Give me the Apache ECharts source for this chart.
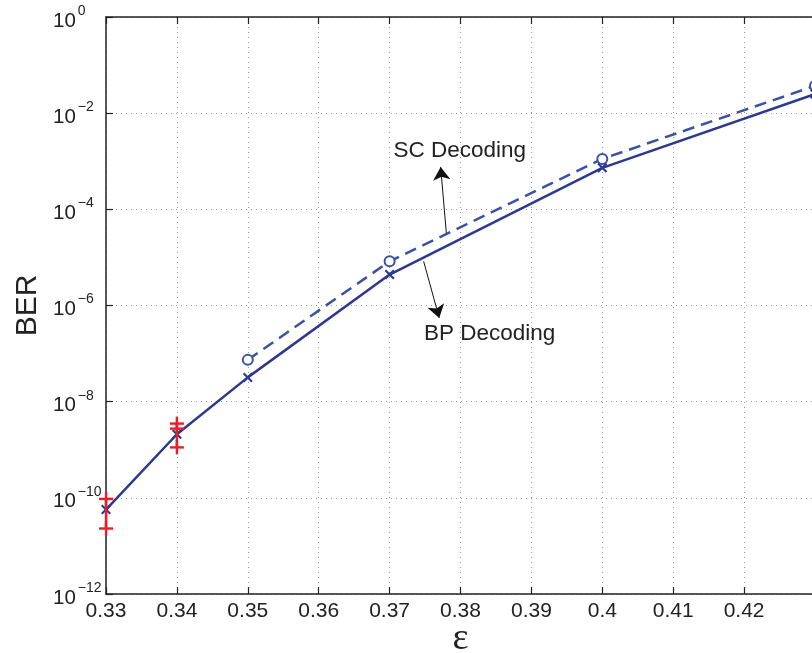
<!DOCTYPE html>
<html>
<head>
<meta charset="utf-8">
<script src="https://cdn.jsdelivr.net/npm/echarts@6/dist/echarts.min.js"></script>
<style>html,body{margin:0;padding:0;background:#fff}#c{width:812px;height:653px}</style>
</head>
<body>
<div id="c"></div>
<script>
// ---- data ----
const xTicks = [0.33, 0.34, 0.35, 0.36, 0.37, 0.38, 0.39, 0.40, 0.41, 0.42, 0.43];
const yTickExps = [-12, -10, -8, -6, -4, -2, 0];
const bpEps = [0.33, 0.34, 0.35, 0.37, 0.40, 0.43];
const bpBer = [5.7e-11, 2.1e-9, 3.2e-8, 4.4e-6, 7.3e-4, 2.5e-2];
const scEps = [0.35, 0.37, 0.40, 0.43];
const scBer = [7.4e-8, 8.3e-6, 1.12e-3, 3.7e-2];
const errEps = [0.33, 0.34];
const errLow = [2.3e-11, 1.12e-9];
const errMid = [null, 2.75e-9];
const errHigh = [9.5e-11, 3.5e-9];
const labelSC = 'SC Decoding';
const labelBP = 'BP Decoding';

const navy = '#2B3990';
const blue = '#3953A4';
const red = '#EE1C25';
const fontFam = 'Liberation Sans, Arial, Helvetica, sans-serif';
const xSym = 'path://M0,1.5 L1.5,0 L5,3.5 L8.5,0 L10,1.5 L6.5,5 L10,8.5 L8.5,10 L5,6.5 L1.5,10 L0,8.5 L3.5,5 Z';

const errData = errEps.map((x, i) => [x, errLow[i], errHigh[i], errMid[i] == null ? NaN : errMid[i]]);

function plusShapes(c, half, thick) {
  return [
    {type: 'rect', shape: {x: c[0] - half, y: c[1] - thick / 2, width: half * 2, height: thick}, style: {fill: red}},
    {type: 'rect', shape: {x: c[0] - thick / 2, y: c[1] - half, width: thick, height: half * 2}, style: {fill: red}}
  ];
}

const chart = echarts.init(document.getElementById('c'));
const gridLine = {show: true, lineStyle: {color: '#9a9a9a', type: [1, 4], width: 1}};
const option = {
  animation: false,
  grid: {left: 106, top: 17, right: -3, bottom: 59, containLabel: false, outerBoundsMode: 'none'},
  xAxis: [{
    type: 'value', min: 0.33, max: 0.43, interval: 0.01, position: 'bottom',
    axisLine: {show: true, onZero: false, lineStyle: {color: '#222', width: 1.5}},
    axisTick: {show: true, inside: true, length: 7, lineStyle: {color: '#222', width: 1.2}},
    axisLabel: {
      margin: 7, fontSize: 21, color: '#222', fontFamily: fontFam, hideOverlap: false,
      formatter: v => { const r = Math.round(v * 100) / 100; return r >= 0.429 ? '' : String(r); }
    },
    splitLine: gridLine,
    name: 'ε', nameLocation: 'middle', nameGap: 26, nameMoveOverlap: false,
    nameTextStyle: {fontSize: 38, fontFamily: 'Liberation Serif, DejaVu Serif, serif', color: '#222'}
  }, {
    type: 'value', min: 0.33, max: 0.43, interval: 0.01, position: 'top',
    axisLine: {show: true, onZero: false, lineStyle: {color: '#222', width: 1.5}},
    axisTick: {show: true, inside: true, length: 7, lineStyle: {color: '#222', width: 1.2}},
    axisLabel: {show: false}, splitLine: {show: false}
  }],
  yAxis: [{
    type: 'log', logBase: 10, min: Math.pow(10, yTickExps[0]), max: Math.pow(10, yTickExps[yTickExps.length - 1]),
    interval: 2, position: 'left',
    axisLine: {show: true, onZero: false, lineStyle: {color: '#222', width: 1.5}},
    axisTick: {show: true, inside: true, length: 7, lineStyle: {color: '#222', width: 1.2}},
    minorTick: {show: false},
    axisLabel: {
      margin: 53, align: 'left', color: '#222', fontFamily: fontFam,
      formatter: v => {
        const e = Math.round(Math.log10(v));
        const s = e < 0 ? '\u2212' + (-e) : String(e);
        return '{b|10}{e|' + s + '}';
      },
      rich: {
        b: {fontSize: 20.5, fontFamily: fontFam, color: '#222', padding: [8, 2, 0, 0]},
        e: {fontSize: 14, fontFamily: fontFam, color: '#222', padding: [0, 0, 12, 0]}
      }
    },
    splitLine: gridLine,
    name: 'BER', nameLocation: 'middle', nameGap: 63, nameRotate: 90, nameMoveOverlap: false,
    nameTextStyle: {fontSize: 30, fontFamily: fontFam, color: '#222'}
  }],
  series: [
    {
      name: 'SC', type: 'line', data: scEps.map((x, i) => [x, scBer[i]]),
      lineStyle: {color: blue, width: 2.5, type: [12, 7]},
      symbol: 'emptyCircle', symbolSize: 10, showAllSymbol: true,
      itemStyle: {color: blue, borderColor: blue, borderWidth: 2},
      z: 3,
      markLine: {
        silent: true, symbol: ['none', 'arrow'], symbolSize: 13,
        lineStyle: {color: '#111', width: 1, type: 'solid'}, label: {show: false},
        data: [
          [{coord: [0.3780, 3.24e-5]}, {coord: [0.3772, 7.6e-4]}],
          [{coord: [0.3748, 8.3e-6]}, {coord: [0.3770, 5.5e-7]}]
        ]
      },
      markPoint: {
        silent: true, symbol: 'circle', symbolSize: 0,
        label: {show: true, position: 'inside', fontSize: 22.5, fontFamily: fontFam, color: '#222',
          formatter: p => p.name},
        data: [
          {name: labelSC, coord: [0.3799, 1.66e-3]},
          {name: labelBP, coord: [0.3841, 2.6e-7]}
        ]
      }
    },
    {
      name: 'BP', type: 'line', data: bpEps.map((x, i) => [x, bpBer[i]]),
      lineStyle: {color: navy, width: 2.5},
      symbol: xSym, symbolSize: 10, showAllSymbol: true,
      itemStyle: {color: navy}, z: 5
    },
    {
      name: 'errBar', type: 'custom', data: errData, z: 6, clip: false,
      dimensions: ['x', 'lo', 'hi', 'mid'],
      encode: {x: 0, y: [1, 2]},
      renderItem: (params, api) => {
        const x = api.value(0);
        const pLo = api.coord([x, api.value(1)]);
        const pHi = api.coord([x, api.value(2)]);
        const children = [
          {type: 'rect', shape: {x: pLo[0] - 1.25, y: pHi[1], width: 2.5, height: pLo[1] - pHi[1]}, style: {fill: red}}
        ];
        children.push(...plusShapes(pLo, 7, 2.4));
        children.push(...plusShapes(pHi, 7, 2.4));
        const m = api.value(3);
        if (!isNaN(m)) children.push(...plusShapes(api.coord([x, m]), 7, 2.4));
        return {type: 'group', children: children};
      }
    }
  ]
};
chart.setOption(option);
</script>
</body>
</html>
